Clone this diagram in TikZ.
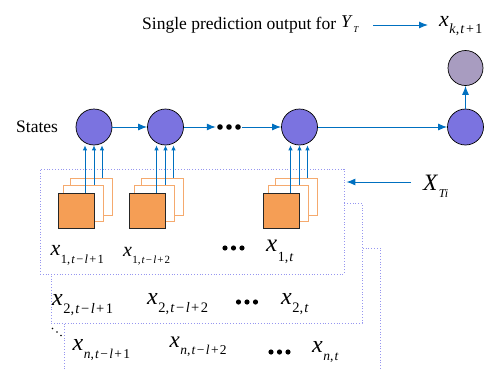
\documentclass[tikz,border=0pt]{standalone}
\usepackage{fontspec}
\setmainfont{Liberation Serif}
\usetikzlibrary{arrows.meta,calc}
\definecolor{stC}{RGB}{123,115,224}
\definecolor{outC}{RGB}{168,156,192}
\definecolor{arrC}{RGB}{0,112,192}
\definecolor{sqC}{RGB}{245,158,85}
\definecolor{sqL}{RGB}{245,170,110}
\definecolor{boxC}{RGB}{150,150,240}
\newcommand{\fs}[1]{\fontsize{#1}{#1}\selectfont}
\newcommand{\mn}{\hspace{0.1em}−\hspace{0.1em}}
\newcommand{\pl}{\hspace{0.1em}+\hspace{0.1em}}
\newcommand{\cm}{,\kern0.08em}
% main size, letter, sub size, drop, subscript
\newcommand{\xs}[5]{\mbox{\fs{#1}\textit{#2}\kern0.02em\raisebox{-#4pt}{\fs{#3}#5}}}
\begin{document}
\begin{tikzpicture}[x=1pt,y=-1pt,
  stcirc/.style={circle,draw=black,line width=0.7pt,fill=stC,minimum size=36pt,inner sep=0pt},
  outcirc/.style={circle,draw=black,line width=0.7pt,fill=outC,minimum size=35pt,inner sep=0pt},
  conn/.style={draw=arrC,line width=1pt,-{Latex[length=9pt,width=7pt]}},
  vconn/.style={draw=arrC,line width=0.9pt,-{Latex[length=5pt,width=4.5pt]}},
  sqmain/.style={draw=black!85,line width=0.8pt,fill=sqC,minimum width=36pt,minimum height=35pt,inner sep=0pt},
  sqback/.style={draw=sqL,line width=0.8pt,fill=white,inner sep=0pt},
  dotbox/.style={draw=boxC,dotted,line width=0.8pt},
  lbl/.style={inner sep=0pt,anchor=base west},
]
\useasboundingbox (0,0) rectangle (491,370);

% top line
\node[lbl] (title) at (142,29) {\fs{17.5}Single prediction output for};
\node[lbl] (yt) at (341,27.7) {\mbox{\fs{18}\textit{Y}\kern0.5pt\raisebox{-5pt}{\fs{9}\textit{T}}}};
\node[lbl] (xk) at (439,26.7) {\xs{22}{x}{14}{6.5}{\textit{k}\cm\textit{t}\pl 1}};
\coordinate (ta) at (373,25);
\coordinate (tb) at (428,25);
\draw[conn] (ta) -- (tb);

% states
\node[anchor=west,inner sep=0pt] (states) at (16,127) {\fs{17.5}States};
\node[stcirc] (s1) at (94,127) {};
\node[stcirc] (s2) at (165.5,127) {};
\node[minimum width=26pt,minimum height=6pt,inner sep=0pt] (dots) at (229,127) {};
\foreach \dx in {-9,0,9} \fill ($(dots.center)+(\dx,0)$) circle (2.8pt);
\node[stcirc] (s3) at (299.5,127) {};
\node[stcirc] (s4) at (465.5,127) {};
\node[outcirc] (out) at (465.5,68) {};

\draw[conn] (s1) -- (s2);
\draw[conn] (s2) -- (dots.west);
\draw[conn] (dots.east) -- (s3);
\draw[conn] (s3) -- (s4);
\draw[conn] (s4) -- (out);

% dotted boxes
\draw[dotbox] (64,372) -- (64,248) -- (380,248) -- (380,372);
\node[dotbox,fill=white,minimum width=311pt,minimum height=120pt,inner sep=0pt] (box2) at (206.5,263) {};
\node[dotbox,fill=white,minimum width=304pt,minimum height=105pt,inner sep=0pt] (box1) at (192,221.5) {};

% input squares
\foreach \i/\L in {1/58,2/129,3/263.5}{
  \node[sqback,minimum width=42pt,minimum height=37pt] (f3\i) at (\L+33,196.5) {};
  \node[sqback,minimum width=40pt,minimum height=36pt] (f2\i) at (\L+25,203) {};
  \node[sqmain] (m\i) at (\L+18,210.5) {};
  \coordinate (a\i) at ($(s\i.south)+(-9,0)$);
  \coordinate (b\i) at ($(s\i.south)+(8,0)$);
  \draw[vconn] (a\i |- m\i.north) -- (a\i);
  \draw[vconn] (s\i.south |- f2\i.north) -- (s\i.south);
  \draw[vconn] (b\i |- f3\i.north) -- (b\i);
}

% X_Ti
\node[lbl] (xti) at (423,190.7) {\mbox{\fs{23.5}\textit{X}\kern0.5pt\raisebox{-6.5pt}{\fs{12}\textit{Ti}}}};
\coordinate (xa) at (411,182);
\draw[conn] (xa) -- ([xshift=2pt]box1.east |- xa);

% row 1
\node[lbl] (r11) at (50.5,255) {\xs{22}{x}{12.5}{8.2}{1\cm\textit{t}\mn\textit{l}\pl 1}};
\node[lbl] (r12) at (123,256.5) {\xs{20}{x}{11}{7.2}{1\cm\textit{t}\mn\textit{l}\pl 2}};
\node[minimum width=24pt,inner sep=0pt] (r1d) at (233.5,248) {};
\foreach \dx in {-8.5,0,8.5} \fill ($(r1d.center)+(\dx,0)$) circle (2.6pt);
\node[lbl] (r13) at (266,251.7) {\xs{25}{x}{14}{9.5}{1\cm\textit{t}}};

% row 2
\node[lbl] (r21) at (52,305) {\xs{24}{x}{14.5}{8.5}{2\cm\textit{t}\mn\textit{l}\pl 1}};
\node[lbl] (r22) at (147,304) {\xs{24}{x}{14.5}{8.5}{2\cm\textit{t}\mn\textit{l}\pl 2}};
\node[minimum width=24pt,inner sep=0pt] (r2d) at (247,302) {};
\foreach \dx in {-8.5,0,8.5} \fill ($(r2d.center)+(\dx,0)$) circle (2.6pt);
\node[lbl] (r23) at (281,304) {\xs{24}{x}{14.5}{8.5}{2\cm\textit{t}}};

% dots between rows
\node[inner sep=0pt,minimum size=10pt] (vd) at (57,332) {};
\fill ($(vd.center)+(-4.5,-3.5)$) circle (0.9pt);
\fill (vd.center) circle (0.9pt);
\fill ($(vd.center)+(4,3.5)$) circle (0.9pt);

% row 3
\node[lbl] (r31) at (72.5,350.5) {\xs{24}{x}{13.5}{7.5}{\textit{n}\cm\textit{t}\mn\textit{l}\pl 1}};
\node[lbl] (r32) at (169.5,347.3) {\xs{23}{x}{13.5}{7.5}{\textit{n}\cm\textit{t}\mn\textit{l}\pl 2}};
\node[minimum width=24pt,inner sep=0pt] (r3d) at (279.5,352) {};
\foreach \dx in {-8.5,0,8.5} \fill ($(r3d.center)+(\dx,0)$) circle (2.6pt);
\node[lbl] (r33) at (312,352.5) {\xs{24}{x}{13.5}{7.5}{\textit{n}\cm\textit{t}}};
\end{tikzpicture}
\end{document}
